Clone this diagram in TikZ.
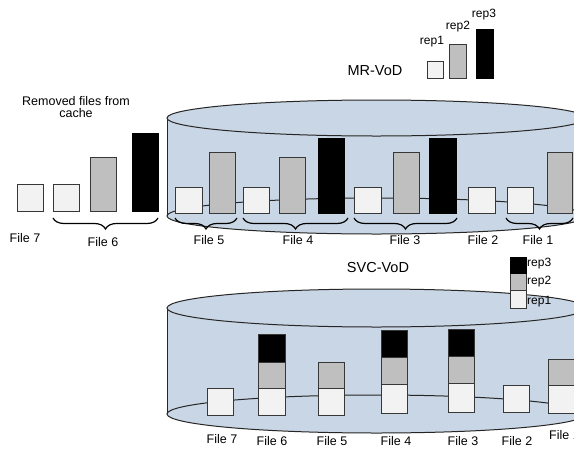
\documentclass[tikz,border=0pt]{standalone}
\usepackage{fontspec}
\setmainfont{Liberation Sans}
\usetikzlibrary{decorations.pathreplacing}
\definecolor{cylfill}{RGB}{201,214,229}
\definecolor{lightbox}{RGB}{242,242,242}
\definecolor{graybox}{RGB}{191,191,191}
\definecolor{edgegray}{RGB}{55,55,55}
\begin{document}
\begin{tikzpicture}[x=1pt,y=-1pt,
  box/.style={draw=edgegray, line width=1pt, minimum width=26pt, inner sep=0pt, outer sep=0pt, anchor=south west},
  ra/.style={box, fill=lightbox},
  rb/.style={box, fill=graybox},
  rc/.style={box, fill=black, draw=black},
  cylline/.style={draw=black!85, line width=1pt},
  brace/.style={decorate, decoration={brace, mirror, amplitude=11pt}, line width=1.2pt, draw=black},
  lbl/.style={font=\fontsize{12.5}{14}\selectfont, inner sep=0pt},
  rlbl/.style={font=\fontsize{12}{14}\selectfont, inner sep=0pt},
  ttl/.style={font=\fontsize{14.5}{16}\selectfont, inner sep=0pt}]
\useasboundingbox (0,0) rectangle (574,448);
\clip (0,0) rectangle (574,448);

% ---------- top cylinder (MR-VoD) ----------
\fill[cylfill] (167,118) rectangle (586,216);
\fill[cylfill] (376.5,216) ellipse [x radius=209.5, y radius=18];
\draw[cylline] (376.5,216) ellipse [x radius=209.5, y radius=18];
\draw[cylline] (167,118) -- (167,216);
\draw[cylline, fill=cylfill] (376.5,118) ellipse [x radius=209.5, y radius=18];

% ---------- bottom cylinder (SVC-VoD) ----------
\fill[cylfill] (167,308) rectangle (586,414);
\fill[cylfill] (376.5,414) ellipse [x radius=209.5, y radius=19];
\draw[cylline] (376.5,414) ellipse [x radius=209.5, y radius=19];
\draw[cylline] (167,308) -- (167,414);
\draw[cylline, fill=cylfill] (376.5,308) ellipse [x radius=209.5, y radius=19];

% ---------- MR-VoD legend ----------
\node[ttl] (mrt) at (375,71) {MR-VoD};
\node[ra, minimum width=16pt, minimum height=17pt] (m1) at (427,78) {};
\node[rb, minimum width=17pt, minimum height=34pt] (m2) at (449,78) {};
\node[rc, minimum width=17pt, minimum height=49pt] (m3) at (476,78) {};
\node[rlbl] (m1l) at (432,42) {rep1};
\node[rlbl] (m2l) at (458,27) {rep2};
\node[rlbl] (m3l) at (484,15) {rep3};

% ---------- removed files ----------
\node[lbl, align=center] (rem) at (76,107) {Removed files from\\[-1.5pt]cache};
\node[ra, minimum height=27pt] (f7) at (17,211) {};
\node[ra, minimum height=27pt] (f6a) at (53,211) {};
\node[rb, minimum height=54pt] (f6b) at (90,211) {};
\node[rc, minimum height=78pt] (f6c) at (132,211) {};

% ---------- files in MR cache ----------
\node[ra, minimum width=27pt, minimum height=26pt] (f5a) at (175,213) {};
\node[rb, minimum height=61pt] (f5b) at (209,213) {};
\node[ra, minimum height=26pt] (f4a) at (243,213) {};
\node[rb, minimum height=56pt] (f4b) at (279,213) {};
\node[rc, minimum height=75pt] (f4c) at (318,213) {};
\node[ra, minimum width=27pt, minimum height=26pt] (f3a) at (354,213) {};
\node[rb, minimum height=61pt] (f3b) at (393,213) {};
\node[rc, minimum width=27pt, minimum height=75pt] (f3c) at (429,213) {};
\node[ra, minimum width=27pt, minimum height=26pt] (f2a) at (468,213) {};
\node[ra, minimum height=26pt] (f1a) at (507,213) {};
\node[rb, minimum width=25pt, minimum height=61pt] (f1b) at (547,213) {};

% ---------- braces ----------
\coordinate (brY) at (0,218);
\draw[brace] (f6a.south west |- brY) -- (f6c.south east |- brY);
\draw[brace] (f5a.south west |- brY) -- ([xshift=2pt]f5b.south east |- brY);
\draw[brace] (f4a.south west |- brY) -- ([xshift=4pt]f4c.south east |- brY);
\draw[brace] (f3a.south west |- brY) -- ([xshift=1pt]f3c.south east |- brY);
\draw[brace] ([xshift=-1pt]f1a.south west |- brY) -- ([xshift=1pt]f1b.south east |- brY);

% ---------- top labels ----------
\node[lbl] (t7) at (25,238) {File 7};
\node[lbl] (t6) at (103,242) {File 6};
\node[lbl] (t5) at (209,240) {File 5};
\node[lbl] (t4) at (298,240) {File 4};
\node[lbl] (t3) at (405,240) {File 3};
\node[lbl] (t2) at (483,240) {File 2};
\node[lbl] (t1) at (538,240) {File 1};

% ---------- SVC-VoD legend ----------
\node[ttl] (svt) at (378,268) {SVC-VoD};
\node[ra, minimum width=16pt, minimum height=18pt] (s1) at (510,308) {};
\node[rb, minimum width=16pt, minimum height=17pt] (s2) at (s1.north west) {};
\node[rc, minimum width=16pt, minimum height=16pt] (s3) at (s2.north west) {};
\node[rlbl, anchor=west] (s3l) at (527,264) {rep3};
\node[rlbl, anchor=west] (s2l) at (527,282) {rep2};
\node[rlbl, anchor=west] (s1l) at (527,302) {rep1};

% ---------- files in SVC cache ----------
\node[ra, minimum height=27pt] (b7) at (207,415) {};
\node[ra, minimum width=27pt, minimum height=27pt] (b6a) at (258,415) {};
\node[rb, minimum width=27pt, minimum height=26pt] (b6b) at (b6a.north west) {};
\node[rc, minimum width=27pt, minimum height=28pt, draw=edgegray] (b6c) at (b6b.north west) {};
\node[ra, minimum height=27pt] (b5a) at (318,415) {};
\node[rb, minimum height=26pt] (b5b) at (b5a.north west) {};
\node[ra, minimum height=29pt] (b4a) at (381,413) {};
\node[rb, minimum height=27pt] (b4b) at (b4a.north west) {};
\node[rc, minimum height=27pt, draw=edgegray] (b4c) at (b4b.north west) {};
\node[ra, minimum height=29pt] (b3a) at (448,412) {};
\node[rb, minimum height=27pt] (b3b) at (b3a.north west) {};
\node[rc, minimum height=27pt, draw=edgegray] (b3c) at (b3b.north west) {};
\node[ra, minimum height=27pt] (b2) at (503,412) {};
\node[ra, minimum width=27pt, minimum height=28pt] (b1a) at (548,413) {};
\node[rb, minimum width=27pt, minimum height=26pt] (b1b) at (b1a.north west) {};

% ---------- bottom labels ----------
\node[lbl] (u7) at (222,439.5) {File 7};
\node[lbl] (u6) at (272,441.5) {File 6};
\node[lbl] (u5) at (332,441.5) {File 5};
\node[lbl] (u4) at (396,441.5) {File 4};
\node[lbl] (u3) at (463,441.5) {File 3};
\node[lbl] (u2) at (517,441.5) {File 2};
\node[lbl, anchor=west] (u1) at (549,435) {File 1};
\end{tikzpicture}
\end{document}
